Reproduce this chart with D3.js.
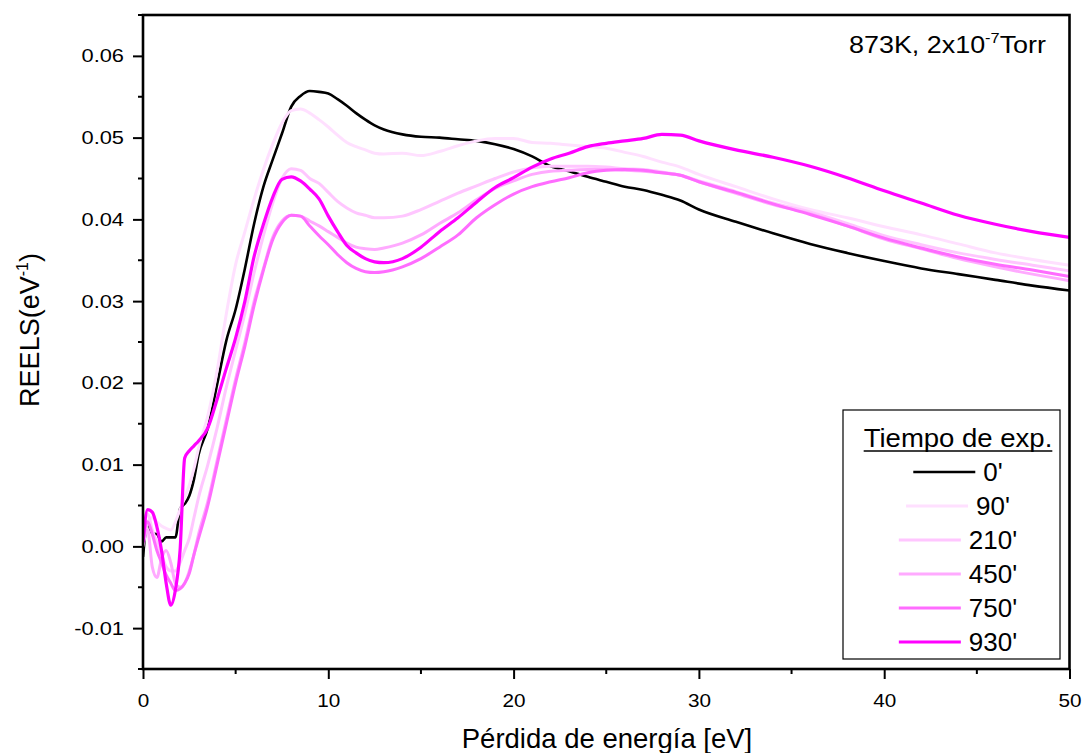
<!DOCTYPE html>
<html>
<head>
<meta charset="utf-8">
<script src="https://cdn.jsdelivr.net/npm/d3@7"></script>
<style>
  html, body { margin: 0; padding: 0; background: #ffffff; }
  svg { display: block; }
  text { font-family: "Liberation Sans", Arial, sans-serif; fill: #000; }
</style>
</head>
<body>
<svg id="chart" width="1085" height="753"></svg>
<script>
// ---------------- data ----------------
const energy = [0,0.25,0.5,0.75,1,1.25,1.5,1.75,2,2.25,2.5,2.75,3,3.5,4,4.5,5,5.5,6,6.5,7,7.5,8,8.5,9,9.5,10,10.5,11,11.5,12,12.5,13,14,15,16,17,18,19,20,21,22,23,24,25,26,27,28,29,30,32,34,36,38,40,42,44,46,48,50];

const s0 = [-0.0013,0.0028,0.0016,0.0015,0.0006,0.0011,0.0011,0.0011,0.0046,0.0052,0.0062,0.0082,0.0112,0.0145,0.0198,0.0252,0.0290,0.0340,0.0395,0.0440,0.0473,0.0505,0.0538,0.0551,0.0557,0.0556,0.0554,0.0547,0.0539,0.0530,0.0522,0.0515,0.0510,0.0504,0.0501,0.0500,0.0498,0.0496,0.0492,0.0486,0.0477,0.0465,0.0459,0.0452,0.0446,0.0440,0.0436,0.0430,0.0423,0.0412,0.0397,0.0383,0.0370,0.0359,0.0349,0.0340,0.0333,0.0326,0.0319,0.0313];

const s90 = [0.0002,0.0030,0.0035,0.0030,0.0025,0.0022,0.0020,0.0030,0.0045,0.0060,0.0075,0.0095,0.0120,0.0160,0.0215,0.0285,0.0345,0.0385,0.0425,0.0461,0.0492,0.0518,0.0533,0.0535,0.0530,0.0522,0.0513,0.0503,0.0494,0.0489,0.0485,0.0481,0.0480,0.0481,0.0478,0.0483,0.0490,0.0496,0.0499,0.0499,0.0494,0.0493,0.0491,0.0489,0.0487,0.0482,0.0477,0.0470,0.0464,0.0455,0.0440,0.0425,0.0412,0.0402,0.0391,0.0381,0.0370,0.0359,0.0351,0.0344];

const s210 = [0.0010,0.0040,0.0020,0.0005,-0.0010,-0.0025,-0.0030,-0.0030,-0.0020,-0.0005,0.0010,0.0035,0.0060,0.0100,0.0145,0.0195,0.0240,0.0285,0.0335,0.0380,0.0420,0.0450,0.0462,0.0460,0.0450,0.0444,0.0433,0.0422,0.0414,0.0408,0.0405,0.0402,0.0402,0.0404,0.0412,0.0422,0.0432,0.0441,0.0450,0.0458,0.0463,0.0465,0.0465,0.0465,0.0464,0.0462,0.0461,0.0458,0.0454,0.0447,0.0434,0.0420,0.0409,0.0395,0.0380,0.0369,0.0359,0.0351,0.0344,0.0337];

const s450 = [0.0000,0.0020,-0.0025,-0.0038,-0.0015,-0.0005,-0.0020,-0.0045,-0.0050,-0.0045,-0.0030,-0.0010,0.0015,0.0055,0.0105,0.0155,0.0205,0.0250,0.0300,0.0340,0.0378,0.0398,0.0405,0.0404,0.0398,0.0392,0.0385,0.0378,0.0371,0.0366,0.0364,0.0363,0.0365,0.0371,0.0381,0.0395,0.0408,0.0424,0.0438,0.0447,0.0455,0.0459,0.0460,0.0461,0.0461,0.0460,0.0459,0.0457,0.0454,0.0446,0.0432,0.0418,0.0407,0.0392,0.0376,0.0364,0.0352,0.0342,0.0333,0.0325];

const s750 = [0.0005,0.0030,0.0015,-0.0005,-0.0020,-0.0035,-0.0045,-0.0054,-0.0052,-0.0045,-0.0033,-0.0010,0.0010,0.0050,0.0100,0.0150,0.0200,0.0245,0.0295,0.0338,0.0375,0.0396,0.0405,0.0404,0.0392,0.0380,0.0369,0.0357,0.0347,0.0340,0.0336,0.0335,0.0336,0.0342,0.0352,0.0366,0.0381,0.0402,0.0418,0.0431,0.0440,0.0446,0.0451,0.0457,0.0460,0.0461,0.0460,0.0457,0.0454,0.0446,0.0433,0.0419,0.0406,0.0392,0.0377,0.0365,0.0354,0.0345,0.0338,0.0330];

const s930 = [0.0005,0.0045,0.0042,0.0024,-0.0005,-0.0045,-0.0072,-0.0053,-0.0005,0.0108,0.0117,0.0123,0.0129,0.0145,0.0180,0.0218,0.0255,0.0300,0.0355,0.0394,0.0427,0.0449,0.0452,0.0447,0.0437,0.0425,0.0404,0.0385,0.0368,0.0359,0.0352,0.0348,0.0347,0.0352,0.0366,0.0385,0.0402,0.0421,0.0439,0.0451,0.0464,0.0474,0.0481,0.0489,0.0493,0.0496,0.0499,0.0504,0.0503,0.0496,0.0485,0.0476,0.0465,0.0451,0.0435,0.0420,0.0405,0.0394,0.0385,0.0378];

const seriesNames = ["0'", "90'", "210'", "450'", "750'", "930'"];
const seriesValues = [s0, s90, s210, s450, s750, s930];
const seriesColors = ["#000000", "#ffe0ff", "#ffc6ff", "#ffaaff", "#ff6cff", "#ff00ff"];

const xTicks = [0, 10, 20, 30, 40, 50];
const yTicks = [-0.01, 0.00, 0.01, 0.02, 0.03, 0.04, 0.05, 0.06];
const xMinorTicks = [5, 15, 25, 35, 45];
const yMinorTicks = [-0.015, -0.005, 0.005, 0.015, 0.025, 0.035, 0.045, 0.055, 0.065];

const xTitle = "Pérdida de energía [eV]";
const legendTitle = "Tiempo de exp.";

// ---------------- layout ----------------
const svg = d3.select("#chart");
const L = 143, R = 1069.5, T = 15, B = 669;

const x = d3.scaleLinear().domain([0, 50]).range([L, R]);
const y = d3.scaleLinear().domain([-0.015, 0.065]).range([B, T]);

svg.append("defs").append("clipPath").attr("id", "clip")
  .append("rect").attr("x", L).attr("y", T).attr("width", R - L).attr("height", B - T);

// curves
const line = d3.line()
  .x(d => x(d[0])).y(d => y(d[1]))
  .curve(d3.curveMonotoneX);

const gLines = svg.append("g").attr("clip-path", "url(#clip)");
const widths = [2.6, 3, 3, 3, 3, 3.2];
seriesValues.forEach((vals, i) => {
  const pts = energy.map((e, k) => [e, vals[k]]);
  gLines.append("path")
    .attr("d", line(pts))
    .attr("fill", "none")
    .attr("stroke", seriesColors[i])
    .attr("stroke-width", widths[i])
    .attr("stroke-linejoin", "round");
});

// horizontal stretch helper (glyphs in the reference are slightly wide)
function stretch(sel, f) {
  sel.each(function () {
    const t = d3.select(this);
    const tx = +t.attr("x") || 0;
    const ty = +t.attr("y") || 0;
    t.attr("x", 0).attr("y", 0)
     .attr("transform", `translate(${tx},${ty}) scale(${f},1)`);
  });
}

// axes
const fmtY = d => d3.format(".2f")(d).replace("−", "-");
const yAxis = d3.axisLeft(y).tickValues(yTicks).tickSize(10).tickPadding(9).tickFormat(fmtY);
const xAxis = d3.axisBottom(x).tickValues(xTicks).tickSize(10).tickPadding(15).tickFormat(d3.format("d"));

const gy = svg.append("g").attr("transform", `translate(${L},0)`).call(yAxis);
const gx = svg.append("g").attr("transform", `translate(0,${B})`).call(xAxis);

[gx, gy].forEach(g => {
  g.select(".domain").remove();
  g.selectAll(".tick line").attr("stroke", "#000").attr("stroke-width", 2);
  g.selectAll(".tick text").attr("font-family", "Liberation Sans, Arial, sans-serif").attr("fill", "#000");
});
gy.selectAll(".tick text").attr("font-size", 18.5);
gx.selectAll(".tick text").attr("font-size", 18.5);
stretch(gy.selectAll(".tick text"), 1.18);
stretch(gx.selectAll(".tick text"), 1.12);

// minor ticks
svg.append("g").selectAll("line").data(yMinorTicks).join("line")
  .attr("x1", L - 5).attr("x2", L).attr("y1", d => y(d)).attr("y2", d => y(d))
  .attr("stroke", "#000").attr("stroke-width", 2);
svg.append("g").selectAll("line").data(xMinorTicks).join("line")
  .attr("x1", d => x(d)).attr("x2", d => x(d)).attr("y1", B).attr("y2", B + 5)
  .attr("stroke", "#000").attr("stroke-width", 2);

// frame
svg.append("rect").attr("x", L).attr("y", T).attr("width", R - L).attr("height", B - T)
  .attr("fill", "none").attr("stroke", "#000").attr("stroke-width", 2.6);

// axis titles
svg.append("text")
  .attr("x", 607).attr("y", 748)
  .attr("text-anchor", "middle").attr("font-size", 27.5)
  .text(xTitle);

const yt = svg.append("text")
  .attr("transform", `translate(39, ${330}) rotate(-90)`)
  .attr("text-anchor", "middle").attr("font-size", 27);
yt.append("tspan").text("REELS(eV");
yt.append("tspan").attr("font-size", 16).attr("dy", -11).text("-1");
yt.append("tspan").attr("dy", 11).text(")");

// annotation
const an = svg.append("text").attr("text-anchor", "end").attr("font-size", 23)
  .attr("transform", "translate(1046,53) scale(1.17,1)");
an.append("tspan").text("873K, 2x10");
an.append("tspan").attr("font-size", 14).attr("dy", -10).text("-7");
an.append("tspan").attr("dy", 10).text("Torr");

// legend
const lg = svg.append("g");
lg.append("rect").attr("x", 843).attr("y", 410).attr("width", 217).attr("height", 249)
  .attr("fill", "#fff").attr("stroke", "#000").attr("stroke-width", 1.2);
const cx = 958;
const lt = lg.append("text").attr("text-anchor", "middle")
  .attr("font-size", 25.5).attr("transform", `translate(${cx},447) scale(1.08,1)`).text(legendTitle);
const tw = lt.node().getComputedTextLength() * 1.08;
lg.append("line").attr("x1", cx - tw / 2).attr("x2", cx + tw / 2).attr("y1", 451).attr("y2", 451)
  .attr("stroke", "#000").attr("stroke-width", 1.5);

seriesNames.forEach((name, i) => {
  const yy = 472 + i * 34;
  const t = lg.append("text").attr("y", yy + 9).attr("font-size", 26).text(name);
  const w = t.node().getComputedTextLength();
  const total = 62 + 8 + w;
  const x0 = cx - total / 2;
  lg.append("line").attr("x1", x0).attr("x2", x0 + 62).attr("y1", yy).attr("y2", yy)
    .attr("stroke", seriesColors[i]).attr("stroke-width", widths[i]);
  t.attr("x", x0 + 70);
});
</script>
</body>
</html>
